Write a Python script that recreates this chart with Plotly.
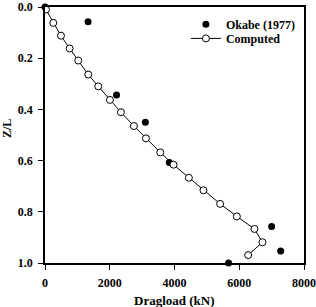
import plotly.graph_objects as go

# Okabe (1977) measured data
okabe_x = [0, 1330, 2210, 3100, 3840, 7000, 7280, 5670]
okabe_z = [0.0, 0.058, 0.344, 0.450, 0.607, 0.857, 0.953, 1.0]

# Computed values
comp_x = [30, 256, 494, 760, 1028, 1336, 1645, 2006, 2346, 2747, 3117,
          3560, 3969, 4444, 4895, 5410, 5926, 6469, 6716, 6275]
comp_z = [0.01, 0.062, 0.112, 0.162, 0.209, 0.264, 0.310, 0.363, 0.411, 0.465,
          0.513, 0.568, 0.616, 0.667, 0.716, 0.769, 0.818, 0.867, 0.919, 0.969]

x_ticks = [0, 2000, 4000, 6000, 8000]
y_ticks = [0.0, 0.2, 0.4, 0.6, 0.8, 1.0]

FONT = "Liberation Serif"

fig = go.Figure()
fig.add_trace(go.Scatter(
    x=okabe_x, y=okabe_z, mode="markers", name="Okabe (1977)",
    marker=dict(symbol="circle", size=7, color="black"),
    cliponaxis=False, legend="legend",
))
fig.add_trace(go.Scatter(
    x=comp_x, y=comp_z, mode="lines+markers", name="Computed",
    line=dict(color="black", width=1),
    marker=dict(symbol="circle", size=7, color="white",
                line=dict(color="black", width=1)),
    legend="legend2",
))

axis_common = dict(
    showline=True, linecolor="black", linewidth=1.5, mirror=True,
    ticks="outside", ticklen=5, tickwidth=1, tickcolor="black",
    showgrid=False, zeroline=False, ticklabeloverflow="allow",
    automargin=False,
    tickfont=dict(family=FONT, size=12, color="black", weight="bold"),
)

legend_common = dict(
    xanchor="left", yanchor="top",
    bgcolor="rgba(0,0,0,0)", borderwidth=0,
    font=dict(family=FONT, size=12, color="black", weight="bold"),
    itemwidth=30,
)

fig.update_layout(
    width=316, height=307,
    margin=dict(l=45, r=12, t=7, b=44),
    paper_bgcolor="white", plot_bgcolor="white",
    font=dict(family=FONT, size=12, color="black", weight="bold"),
    showlegend=True,
    legend=dict(x=0.544, y=0.989, **legend_common),
    legend2=dict(x=0.544, y=0.934, **legend_common),
    xaxis=dict(range=[0, 8000], tickvals=x_ticks,
               ticktext=[str(v) for v in x_ticks], ticklabelstandoff=3,
               **axis_common),
    yaxis=dict(range=[1.0, 0.0], tickvals=y_ticks,
               ticktext=[f"{v:.1f}" for v in y_ticks], ticklabelstandoff=3,
               **axis_common),
    annotations=[
        dict(text="Dragload (kN)", xref="paper", yref="paper",
             x=0.5, y=-0.148, xanchor="center", yanchor="middle",
             showarrow=False,
             font=dict(family=FONT, size=13, color="black", weight="bold")),
        dict(text="Z/L", xref="paper", yref="paper",
             x=-0.147, y=0.527, xanchor="center", yanchor="middle",
             textangle=-90, showarrow=False,
             font=dict(family=FONT, size=12, color="black", weight="bold")),
    ],
)

fig.write_html("out.html")
